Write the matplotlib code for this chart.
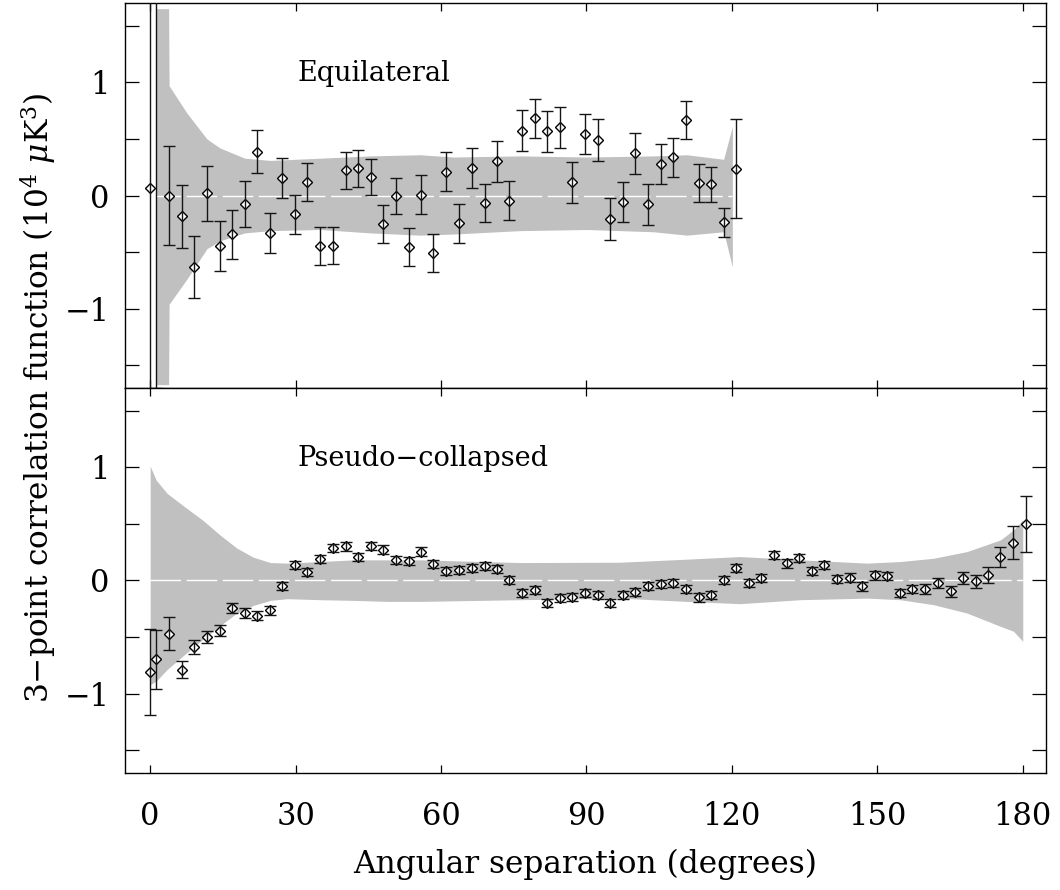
import matplotlib
matplotlib.use("Agg")
import matplotlib.pyplot as plt
import numpy as np

# ---- Equilateral (top panel) ----
eq_x = [0, 1.1, 3.85, 6.5, 9.1, 11.7, 14.3, 16.9, 19.5, 22.0, 24.8, 27.2, 29.8, 32.4,
        35.0, 37.7, 40.3, 42.9, 45.5, 48.1, 50.7, 53.3, 55.8, 58.4, 61.1, 63.7, 66.3,
        69.0, 71.6, 74.1, 76.7, 79.3, 81.9, 84.5, 87.1, 89.7, 92.3, 94.9, 97.5, 100.1,
        102.7, 105.3, 107.9, 110.6, 113.2, 115.7, 118.3, 120.9]
eq_y = [0.067, 1.9, 0.0, -0.182, -0.631, 0.018, -0.446, -0.343, -0.076, 0.387, -0.329,
        0.156, -0.164, 0.117, -0.446, -0.443, 0.223, 0.241, 0.164, -0.252, -0.003,
        -0.458, 0.006, -0.508, 0.211, -0.246, 0.244, -0.067, 0.302, -0.044, 0.572,
        0.681, 0.566, 0.602, 0.117, 0.543, 0.487, -0.205, -0.059, 0.373, -0.079, 0.282,
        0.340, 0.666, 0.112, 0.100, -0.238, 0.238]
eq_err = [3.0, 3.6, 0.44, 0.277, 0.276, 0.242, 0.219, 0.216, 0.200, 0.188, 0.179, 0.175,
          0.173, 0.166, 0.166, 0.166, 0.164, 0.164, 0.161, 0.166, 0.161, 0.167, 0.172,
          0.167, 0.170, 0.173, 0.179, 0.166, 0.182, 0.176, 0.182, 0.175, 0.180, 0.179,
          0.182, 0.180, 0.185, 0.186, 0.178, 0.179, 0.179, 0.176, 0.172, 0.166, 0.166,
          0.153, 0.128, 0.434]

eq_band_x = [1.2, 3.8, 3.9, 7.55, 11.7, 14.4, 19.5, 24.8, 35.1, 45.4, 55.7, 62.6, 76.3,
             90.1, 103.8, 110.7, 118.3, 120.1]
eq_band_hi = [1.65, 1.65, 0.97, 0.73, 0.50, 0.42, 0.33, 0.31, 0.33, 0.35, 0.36, 0.34,
              0.35, 0.34, 0.35, 0.36, 0.32, 0.61]
eq_band_lo = [-1.67, -1.67, -0.96, -0.74, -0.47, -0.40, -0.33, -0.31, -0.30, -0.33,
              -0.35, -0.34, -0.31, -0.30, -0.32, -0.35, -0.32, -0.63]

# ---- Pseudo-collapsed (bottom panel) ----
pc_x = [0, 1.24, 3.85, 6.5, 9.1, 11.7, 14.3, 16.9, 19.5, 22.0, 24.8, 27.2, 29.8, 32.4,
        35.0, 37.7, 40.3, 42.9, 45.5, 48.1, 50.7, 53.3, 55.8, 58.4, 61.1, 63.7, 66.3,
        69.0, 71.6, 74.1, 76.7, 79.3, 81.9, 84.5, 87.1, 89.7, 92.3, 94.9, 97.5, 100.1,
        102.7, 105.3, 107.9, 110.6, 113.2, 115.7, 118.3, 120.9, 123.5, 126.1, 128.7,
        131.3, 133.9, 136.5, 139.1, 141.7, 144.3, 146.9, 149.5, 152.1, 154.6, 157.2,
        159.9, 162.5, 165.1, 167.7, 170.3, 172.9, 175.4, 178.0, 180.7]
pc_y = [-0.807, -0.698, -0.472, -0.789, -0.587, -0.499, -0.443, -0.244, -0.288, -0.311,
        -0.264, -0.05, 0.135, 0.073, 0.188, 0.288, 0.302, 0.208, 0.302, 0.273,
        0.182, 0.173, 0.255, 0.147, 0.085, 0.091, 0.109, 0.126, 0.1, 0.006,
        -0.109, -0.088, -0.2, -0.156, -0.144, -0.109, -0.126, -0.2, -0.126, -0.1,
        -0.047, -0.032, -0.026, -0.073, -0.15, -0.126, 0.006, 0.109, -0.023, 0.018,
        0.223, 0.15, 0.2, 0.085, 0.138, 0.015, 0.026, -0.053, 0.044, 0.041,
        -0.109, -0.076, -0.076, -0.026, -0.094, 0.021, -0.009, 0.047, 0.205, 0.335, 0.499]
pc_err = [0.379, 0.264, 0.145, 0.075, 0.062, 0.056, 0.051, 0.044, 0.043, 0.041,
          0.040, 0.038, 0.038, 0.038, 0.038, 0.037, 0.038, 0.037, 0.037, 0.037,
          0.037, 0.037, 0.037, 0.037, 0.037, 0.036, 0.037, 0.037, 0.036, 0.036,
          0.036, 0.036, 0.036, 0.036, 0.036, 0.036, 0.036, 0.036, 0.036, 0.036,
          0.036, 0.036, 0.036, 0.036, 0.036, 0.036, 0.035, 0.036, 0.035, 0.036,
          0.037, 0.037, 0.037, 0.037, 0.037, 0.037, 0.037, 0.040, 0.037, 0.037,
          0.037, 0.037, 0.044, 0.045, 0.048, 0.054, 0.060, 0.070, 0.088, 0.142, 0.246]

pc_band_x = [0, 1.24, 3.5, 7.1, 10.8, 14.4, 17.9, 21.3, 24.8, 28.3, 35.1, 42.0, 48.9,
             55.7, 76.3, 96.9, 110.7, 121.7, 134.1, 147.9, 154.7, 161.6, 168.5, 175.4,
             178.1, 180.0]
pc_band_hi = [1.01, 0.886, 0.769, 0.651, 0.534, 0.402, 0.285, 0.205, 0.158, 0.153,
              0.167, 0.182, 0.182, 0.182, 0.158, 0.161, 0.188, 0.211, 0.182, 0.153,
              0.167, 0.196, 0.255, 0.358, 0.446, 0.534]
pc_band_lo = [-0.92, -0.889, -0.786, -0.654, -0.522, -0.399, -0.288, -0.22, -0.176,
              -0.161, -0.170, -0.176, -0.185, -0.185, -0.170, -0.156, -0.185, -0.205,
              -0.170, -0.156, -0.170, -0.214, -0.288, -0.405, -0.449, -0.537]

x_ticks = [0, 30, 60, 90, 120, 150, 180]
y_ticks = [-1, 0, 1]
y_minor = [-1.5, -0.5, 0.5, 1.5]

plt.rcParams["font.family"] = ["DejaVu Serif"]
plt.rcParams["mathtext.fontset"] = "dejavuserif"

fig = plt.figure(figsize=(10.6, 8.9), dpi=100)
ax_top = fig.add_axes([0.1179, 0.5640, 0.8689, 0.4326])
ax_bot = fig.add_axes([0.1179, 0.1315, 0.8689, 0.4326])


def draw_panel(ax, x, y, err, bx, bhi, blo, label):
    ax.fill_between(bx, blo, bhi, color="#c0c0c0", lw=0, zorder=1)
    ax.hlines(0, x[0], bx[-1], colors="white", lw=1.0,
              linestyles=(0, (22, 4)), zorder=1.5)
    ax.plot(x, y, "D", ms=4.8, mfc="white", mec="black", mew=1.0, zorder=2)
    ax.errorbar(x, y, yerr=err, fmt="none", ecolor="#151515", elinewidth=1.0,
                capsize=4.5, capthick=1.0, zorder=3)
    ax.text(30.3, 1.08, label, fontsize=19.5, ha="left", va="center")
    ax.set_xlim(-5.2, 184.8)
    ax.set_ylim(-1.7, 1.7)
    ax.set_xticks(x_ticks)
    ax.set_yticks(y_ticks)
    ax.set_yticks(y_minor, minor=True)
    ax.tick_params(axis="x", which="both", direction="in", top=True, bottom=True,
                   length=6, width=0.9, pad=20, labelsize=22)
    ax.tick_params(axis="y", which="both", direction="in", left=True, right=True,
                   length=10, width=0.9, pad=11, labelsize=22)
    for s in ax.spines.values():
        s.set_linewidth(1.0)


draw_panel(ax_top, eq_x, eq_y, eq_err, eq_band_x, eq_band_hi, eq_band_lo, "Equilateral")
draw_panel(ax_bot, pc_x, pc_y, pc_err, pc_band_x, pc_band_hi, pc_band_lo,
           "Pseudo\u2212collapsed")
ax_top.tick_params(axis="x", labelbottom=False)

ax_bot.set_xlabel("Angular separation (degrees)", fontsize=22.5, labelpad=12)
fig.text(0.037, 0.553, r"3$-$point correlation function (10$^4$ $\mu$K$^3$)",
         rotation=90, ha="center", va="center", fontsize=22.5)

fig.savefig("out.png", dpi=100)
